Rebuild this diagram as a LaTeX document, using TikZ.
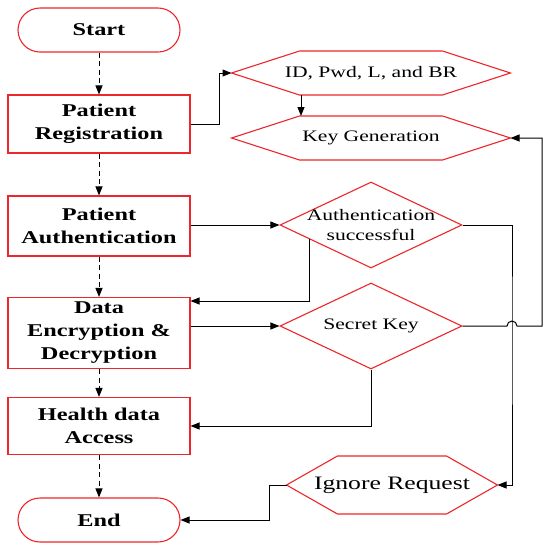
\documentclass[tikz,border=0pt]{standalone}
\usepackage{fontspec}
\setmainfont{Liberation Serif}[FakeStretch=1.35]
\usetikzlibrary{shapes.geometric,arrows.meta,calc}
\definecolor{boxred}{RGB}{236,38,42}

\begin{document}
\begin{tikzpicture}[x=1pt, y=-1pt, line width=1pt,
  >={Triangle[length=9pt,width=7pt]},
  block/.style={rectangle, draw=boxred, line width=1.1pt, minimum width=182pt,
                align=center, font=\fontsize{18}{23}\selectfont\bfseries},
  term/.style={block, rounded corners=22pt, minimum width=162pt, minimum height=44pt},
  hexa/.style={rectangle, inner sep=0pt, minimum width=278pt, minimum height=43pt,
               align=center, font=\fontsize{16}{19.5}\selectfont,
               append after command={\pgfextra{\draw[boxred, line width=1.1pt]
                 (\tikzlastnode.west) -- ([xshift=#1]\tikzlastnode.north west)
                 -- ([xshift=-#1]\tikzlastnode.north east) -- (\tikzlastnode.east)
                 -- ([xshift=-#1]\tikzlastnode.south east)
                 -- ([xshift=#1]\tikzlastnode.south west) -- cycle;}}},
  hexa/.default=68pt,
  decision/.style={diamond, draw=boxred, line width=1.1pt, inner sep=0pt,
                   minimum width=182pt, minimum height=86pt},
  txt/.style={font=\fontsize{16}{19.5}\selectfont, align=center},
  flow/.style={->, dash pattern=on 5pt off 3.5pt}]
  \useasboundingbox (0,0) rectangle (550,550);

  % main column
  \node[term] (start) at (99,30) {Start};
  \node[block, minimum height=58pt] (reg) at (99,124) {Patient\\Registration};
  \node[block, minimum height=60pt] (auth) at (99,226) {Patient\\Authentication};
  \node[block, minimum height=71pt] (data) at (99,333) {Data\\Encryption \&\\Decryption};
  \node[block, minimum height=57pt] (health) at (99,426) {Health data\\Access};
  \node[term] (end) at (99,520) {End};

  % right side
  \node[hexa] (idpwd) at (371,73) {ID, Pwd, L, and BR};
  \node[hexa] (keygen) at (371,138) {Key Generation};
  \node[decision, label={[txt]center:{Authentication\\successful}}] (authok) at (371,225) {};
  \node[decision, label={[txt]center:Secret Key}] (secret) at (371,326) {};
  \node[hexa=51pt, minimum width=210pt, minimum height=57pt,
        font=\fontsize{19}{23}\selectfont] (ignore) at (392,485) {Ignore Request};
  \coordinate (cross) at (512,326);

  \draw[flow] (start) -- (reg);
  \draw[flow] (reg) -- (auth);
  \draw[flow] (auth) -- (data);
  \draw[flow] (data) -- (health);
  \draw[flow] (health) -- (end);

  \draw[->] (reg.east) -- ++(29,0) |- (idpwd.west);
  \draw[->] ([xshift=-70pt]idpwd.south) -- ([xshift=-70pt]keygen.north);
  \draw[->] (auth.east |- authok.west) -- (authok.west);
  \draw[->] ($(authok.west)!0.33!(authok.south)$) |- ([yshift=32pt]data.east);
  \draw[->] (data.east |- secret.west) -- (secret.west);
  \draw[->] (authok.east) -| (cross) |- (ignore.east);
  \draw[->] (secret.east) -- ([xshift=-5pt]cross) arc[start angle=180, end angle=0, radius=5pt]
    -- ++(25,0) |- (keygen.east);
  \draw[->] (secret.south) |- (health.east);
  \draw[->] (ignore.west) -- ++(-17,0) |- (end.east);
\end{tikzpicture}
\end{document}
